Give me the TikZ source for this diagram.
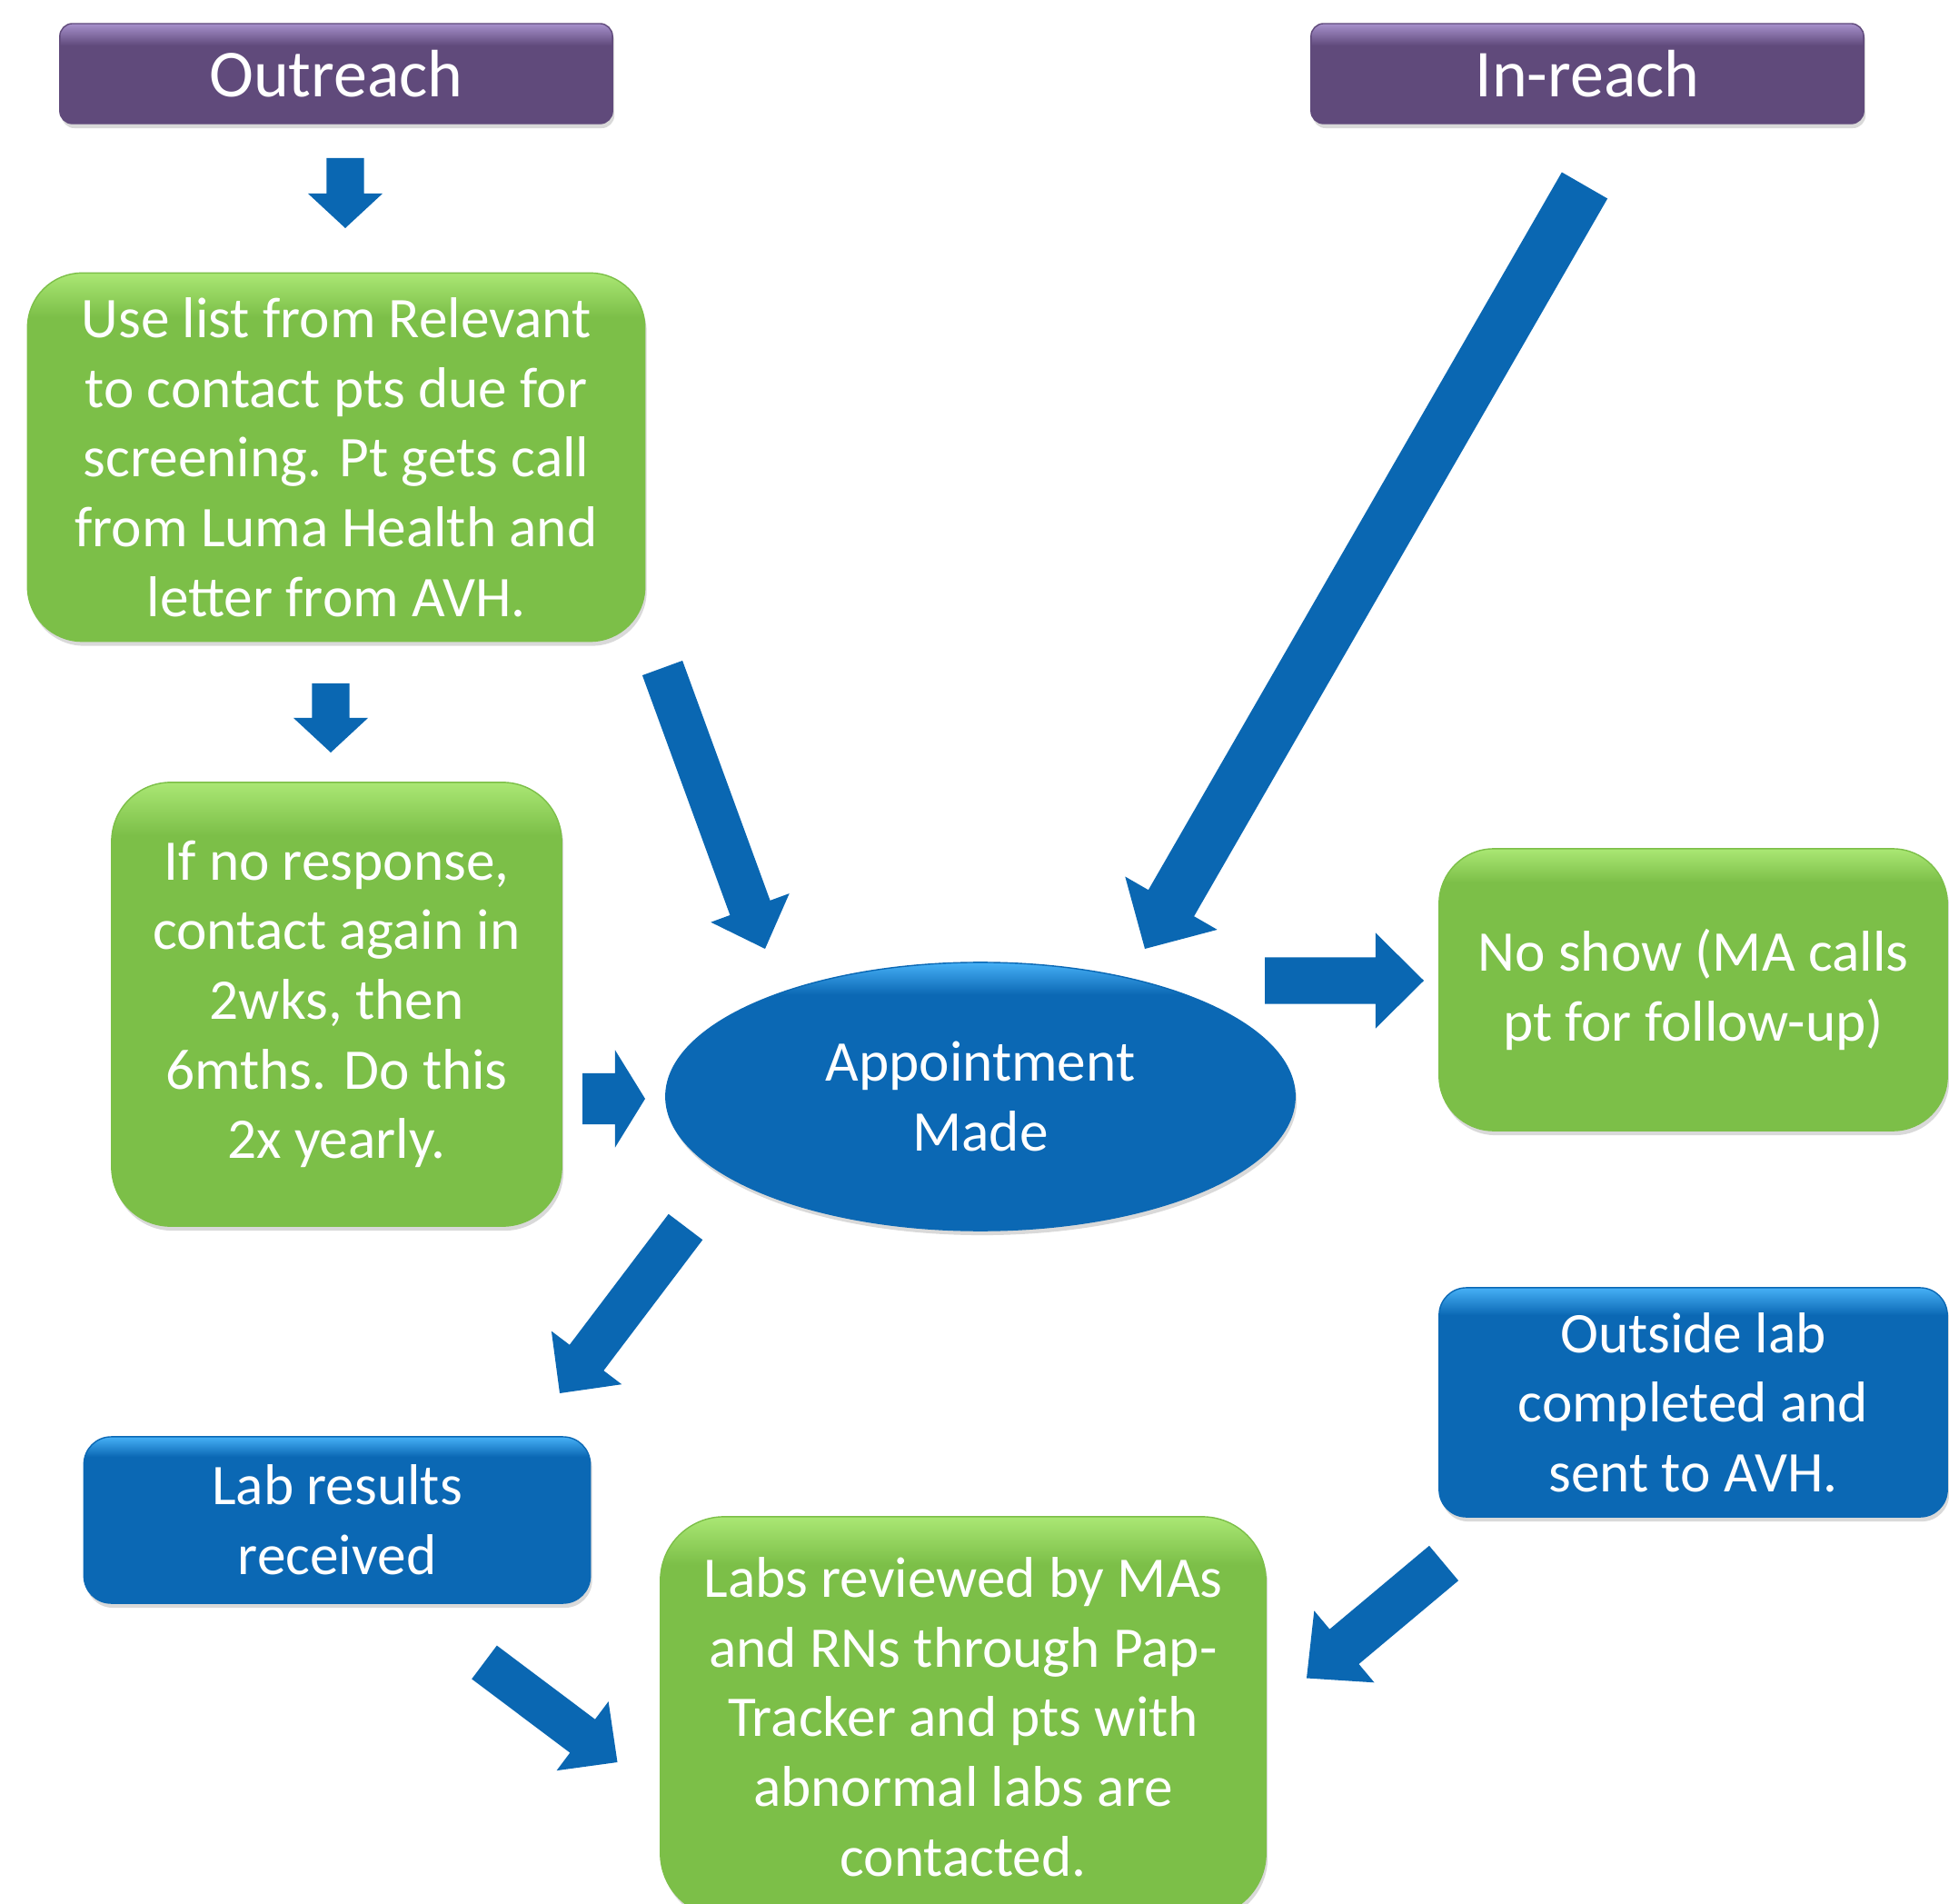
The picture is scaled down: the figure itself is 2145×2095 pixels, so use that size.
\documentclass[tikz,border=0pt]{standalone}
\usepackage{fontspec}
\setmainfont{Carlito}
\usetikzlibrary{shapes.geometric,calc,shadows}

\definecolor{boxgreen}{HTML}{7CBF48}
\definecolor{boxgreenlt}{HTML}{AAE774}
\definecolor{boxblue}{HTML}{0B68B4}
\definecolor{boxbluelt}{HTML}{46B0F6}
\definecolor{boxpurple}{HTML}{604A7B}
\definecolor{boxpurplelt}{HTML}{A791CC}
\definecolor{arrowblue}{HTML}{0A67B2}

\pgfdeclareverticalshading{greenglow}{100bp}{color(0bp)=(boxgreen); color(69bp)=(boxgreen); color(75bp)=(boxgreenlt); color(100bp)=(boxgreenlt)}
\pgfdeclareverticalshading{blueglow}{100bp}{color(0bp)=(boxblue); color(69bp)=(boxblue); color(75bp)=(boxbluelt); color(100bp)=(boxbluelt)}
\pgfdeclareverticalshading{purpleglow}{100bp}{color(0bp)=(boxpurple); color(64bp)=(boxpurple); color(75bp)=(boxpurplelt); color(100bp)=(boxpurplelt)}

\tikzset{
  boxbase/.style={align=center, text=white, inner sep=0pt,
    drop shadow={opacity=0.3, shadow xshift=0.02cm, shadow yshift=-0.05cm},
    font=\fontsize{18}{21.8}\selectfont},
  headbox/.style={boxbase, rounded corners=0.14cm, shading=purpleglow, draw=boxpurple,
    minimum width=6.08cm, minimum height=1.1cm, font=\fontsize{21}{25}\selectfont},
  greenbox/.style={boxbase, rounded corners=0.6cm, shading=greenglow, draw=boxgreen},
  bluebox/.style={boxbase, rounded corners=0.3cm, shading=blueglow, draw=boxblue},
  apptoval/.style={boxbase, ellipse, shading=blueglow, draw=boxblue}
}

% tail, tip, half shaft, half head, head length
\newcommand{\blockarrow}[5]{%
  \coordinate (ba) at ($(#2)!#5!(#1)$);
  \fill[arrowblue] ($(#1)!#3!90:(#2)$) -- ($(ba)!#3!90:(#2)$) -- ($(ba)!#4!90:(#2)$) -- (#2)
    -- ($(ba)!#4!-90:(#2)$) -- ($(ba)!#3!-90:(#2)$) -- ($(#1)!#3!-90:(#2)$) -- cycle;
}

\begin{document}
\begin{tikzpicture}[x=0.01cm, y=-0.01cm]
\useasboundingbox (0,0) rectangle (2145,2095);

\node[headbox] (outreach) at (370,81) {Outreach};
\node[headbox] (inreach) at (1747,81) {In-reach};

\node[greenbox, minimum width=6.79cm, minimum height=4.05cm] (uselist) at (370,503)
  {Use list from Relevant\\to contact pts due for\\screening. Pt gets call\\from Luma Health and\\letter from AVH.};
\node[greenbox, rounded corners=0.65cm, minimum width=4.95cm, minimum height=4.88cm] (noresp) at (370.5,1105)
  {If no response,\\contact again in\\2wks, then\\6mths. Do this\\2x yearly.};
\node[apptoval, minimum width=6.92cm, minimum height=2.95cm] (appt) at (1079,1206.5) {Appointment\\Made};
\node[greenbox, minimum width=5.59cm, minimum height=3.1cm] (noshow) at (1863.5,1089)
  {No show (MA calls\\pt for follow-up)};
\node[bluebox, minimum width=5.59cm, minimum height=2.52cm] (outlab) at (1863.5,1543)
  {Outside lab\\completed and\\sent to AVH.};
\node[bluebox, minimum width=5.57cm, minimum height=1.83cm] (labres) at (371,1672.5) {Lab results\\received};
\node[greenbox, rounded corners=0.7cm, minimum width=6.66cm, minimum height=4.4cm] (reviewed) at (1060,1889)
  {Labs reviewed by MAs\\and RNs through Pap-\\Tracker and pts with\\abnormal labs are\\contacted.};

% arrow ends
\coordinate (t1) at (380,174);   \coordinate (h1) at (380,251);
\coordinate (t2) at (364,752);   \coordinate (h2) at (364,828);
\coordinate (tA) at (729,735);   \coordinate (hA) at (842,1044);
\coordinate (tB) at (1744,204);  \coordinate (hB) at (1260,1044);
\coordinate (tR) at (641,1209);  \coordinate (hR) at (710,1209);
\coordinate (tS) at (1392,1079); \coordinate (hS) at (1567,1079);
\coordinate (tC) at (754.5,1350); \coordinate (hC) at (616,1533);
\coordinate (tD) at (533,1829);  \coordinate (hD) at (679.5,1939);
\coordinate (tE) at (1589,1720); \coordinate (hE) at (1438,1846.5);

\blockarrow{t1}{h1}{0.205cm}{0.41cm}{0.38cm}
\blockarrow{t2}{h2}{0.205cm}{0.41cm}{0.38cm}
\blockarrow{tA}{hA}{0.235cm}{0.46cm}{0.48cm}
\blockarrow{tB}{hB}{0.29cm}{0.585cm}{0.58cm}
\blockarrow{tR}{hR}{0.28cm}{0.535cm}{0.33cm}
\blockarrow{tS}{hS}{0.255cm}{0.525cm}{0.53cm}
\blockarrow{tC}{hC}{0.235cm}{0.485cm}{0.49cm}
\blockarrow{tD}{hD}{0.23cm}{0.475cm}{0.48cm}
\blockarrow{tE}{hE}{0.25cm}{0.515cm}{0.54cm}
\end{tikzpicture}
\end{document}
